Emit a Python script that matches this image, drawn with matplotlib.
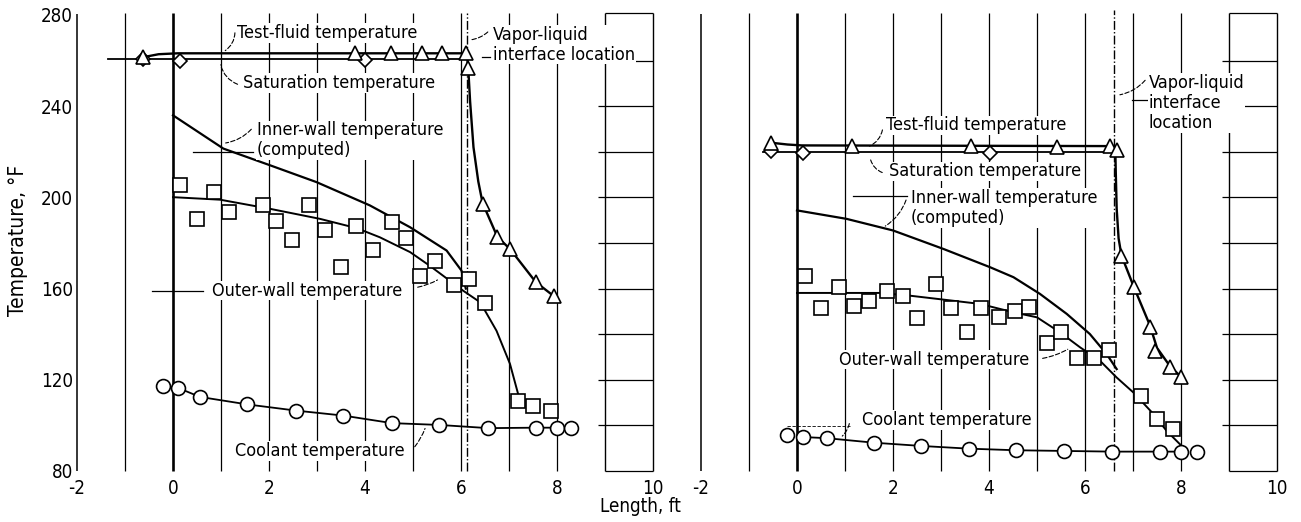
import matplotlib.pyplot as plt
import numpy as np

plt.rcParams['font.family'] = ['DejaVu Sans']
plt.rcParams['font.stretch'] = 'condensed'
plt.rcParams['font.size'] = 13
plt.rcParams['axes.unicode_minus'] = False

# ---------------- left panel data ----------------
a_tf_x = [-0.62, 3.79, 4.54, 5.19, 5.60, 6.10, 6.15, 6.45, 6.76, 7.02, 7.56, 7.94]
a_tf_y = [261.5, 263.3, 263.3, 263.3, 263.3, 263.3, 256.6, 197.2, 182.6, 177.4, 162.8, 156.6]
a_tf_line_x = [-0.62, -0.3, 0.1, 6.12, 6.15, 6.19, 6.26, 6.36, 6.45, 6.76, 7.02, 7.56, 7.94]
a_tf_line_y = [261.5, 262.8, 263.2, 263.2, 257.0, 242.0, 222.0, 207.0, 197.5, 182.6, 177.4, 162.8, 156.6]
a_sat_x = [-0.62, 0.15, 4.0]
a_sat_y = [260.6, 259.8, 260.2]
a_sat_line_x = [-1.35, 6.1]
a_sat_line_y = [260.5, 260.5]
a_inner_x = [0, 1.05, 2.02, 2.99, 4.1, 4.94, 5.7, 6.01, 6.1]
a_inner_y = [236.0, 221.4, 214.1, 206.7, 196.5, 186.9, 176.7, 167.9, 160.0]
a_outer_x = [0.15, 0.51, 0.85, 1.17, 1.88, 2.15, 2.47, 2.84, 3.17, 3.51, 3.81, 4.16,
             4.56, 4.85, 5.15, 5.46, 5.85, 6.17, 6.5, 7.18, 7.51, 7.88]
a_outer_y = [205.3, 190.6, 202.3, 193.5, 196.5, 189.6, 181.4, 196.5, 185.5, 169.4, 187.3, 177.0,
             189.1, 182.2, 165.7, 172.3, 161.6, 164.0, 153.5, 110.5, 108.6, 106.1]
a_outer_line_x = [0, 0.98, 2.02, 3.06, 3.83, 4.31, 4.94, 5.35, 6.05, 6.4, 6.74, 7.02, 7.2]
a_outer_line_y = [200.1, 199.0, 195.0, 190.6, 186.5, 182.5, 176.0, 170.0, 159.0, 154.0, 141.5, 127.0, 113.0]
a_cool_x = [-0.21, 0.1, 0.56, 1.55, 2.56, 3.55, 4.56, 5.55, 6.57, 7.56, 7.99, 8.3]
a_cool_y = [117.4, 116.5, 112.5, 109.2, 106.5, 104.3, 101.0, 100.2, 98.8, 99.0, 99.0, 99.0]
a_interface = 6.12

# ---------------- right panel data ----------------
b_tf_x = [-0.55, 1.14, 3.62, 5.41, 6.52, 6.66, 6.76, 7.02, 7.35, 7.46, 7.77, 8.0]
b_tf_y = [224.0, 222.5, 222.5, 222.0, 222.5, 221.0, 174.5, 160.6, 143.0, 132.7, 125.4, 121.3]
b_tf_line_x = [-0.55, -0.2, 0.1, 6.63, 6.64, 6.66, 6.7, 6.76, 7.02, 7.35, 7.5, 7.77, 8.0]
b_tf_line_y = [224.0, 223.2, 222.8, 222.5, 212.0, 195.0, 182.0, 174.5, 160.6, 144.0, 134.0, 126.0, 121.3]
b_sat_x = [-0.55, 0.13, 4.02]
b_sat_y = [220.5, 219.3, 219.3]
b_sat_line_x = [-0.7, 6.6]
b_sat_line_y = [219.8, 219.8]
b_inner_x = [0, 1.03, 2.0, 3.05, 4.02, 4.51, 5.06, 5.62, 6.1, 6.45, 6.66]
b_inner_y = [194.3, 190.6, 185.5, 177.4, 169.4, 165.0, 157.7, 148.9, 140.1, 131.3, 124.7]
b_outer_x = [0.17, 0.49, 0.88, 1.19, 1.51, 1.87, 2.2, 2.51, 2.89, 3.2, 3.54, 3.83,
             4.2, 4.54, 4.84, 5.2, 5.49, 5.83, 6.19, 6.51, 7.17, 7.49, 7.84]
b_outer_y = [165.4, 151.3, 160.9, 152.5, 154.4, 158.8, 156.9, 147.1, 162.0, 151.3, 141.0, 151.5,
             147.4, 150.3, 151.8, 136.1, 141.1, 129.5, 129.5, 133.0, 113.0, 102.7, 98.6]
b_outer_line_x = [0, 1.73, 2.35, 3.81, 4.51, 5.0, 5.48, 5.9, 6.31, 6.66, 7.01, 7.43, 7.7, 7.98]
b_outer_line_y = [158.1, 158.1, 156.9, 153.3, 149.6, 147.4, 140.8, 134.2, 128.4, 121.0, 114.4, 104.9, 97.6, 91.7]
b_cool_x = [-0.21, 0.12, 0.62, 1.61, 2.58, 3.58, 4.56, 5.56, 6.57, 7.56, 8.01, 8.33]
b_cool_y = [95.8, 94.9, 94.4, 92.4, 91.0, 89.8, 89.1, 88.8, 88.5, 88.5, 88.5, 88.5]
b_interface = 6.6

x_ticks = [-2, 0, 2, 4, 6, 8, 10]
y_ticks = [80, 120, 160, 200, 240, 280]
stations = [-1, 1, 2, 3, 4, 5, 6, 7, 8]
box_levels = [100, 120, 140, 160, 180, 200, 220, 240, 260]

fig = plt.figure(figsize=(13.01, 5.22), dpi=100)
axL = fig.add_axes([77 / 1301, 1 - 471 / 522, 576 / 1301, 456 / 522])
axR = fig.add_axes([701 / 1301, 1 - 471 / 522, 576 / 1301, 456 / 522])

mk = dict(mfc='white', mec='black', mew=1.2, ls='none', zorder=6)
lbl = dict(fontsize=13, ha='left', va='center', zorder=8,
           bbox=dict(fc='white', ec='none', pad=0.5))
dash = dict(arrowstyle='-', ls=(0, (4, 2)), lw=0.8, color='black')


def frame(ax, first):
    ax.set_xlim(-2, 10)
    ax.set_ylim(80, 280)
    for s in ['top', 'right', 'bottom', 'left']:
        ax.spines[s].set_visible(False)
    ax.set_xticks(x_ticks)
    ax.tick_params(axis='both', length=0, labelsize=13.5)
    ax.tick_params(axis='x', pad=6)
    if first:
        ax.set_yticks(y_ticks)
        ax.tick_params(axis='y', pad=3)
    else:
        ax.set_yticks([])
    # station lines and x = 0 line
    ax.vlines([-2], 80, 280.5, color='black', lw=1.1, clip_on=False)
    ax.vlines(stations, 80, 281, color='black', lw=0.9, clip_on=False)
    ax.vlines([0], 80, 281, color='black', lw=1.9, clip_on=False)
    # box at the right end
    ax.vlines([9, 10], 80, 281, color='black', lw=1.0, clip_on=False)
    ax.hlines(box_levels, 8.85, 10, color='black', lw=0.9)
    ax.hlines([80, 281], 9, 10, color='black', lw=0.9, clip_on=False)


frame(axL, True)
frame(axR, False)

# ---------------- left panel ----------------
ax = axL
ax.vlines([a_interface], 80, 281, color='black', lw=1.0, ls='-.', clip_on=False)
ax.plot(a_sat_line_x, a_sat_line_y, color='black', lw=1.3, zorder=4)
ax.plot(a_tf_line_x, a_tf_line_y, color='black', lw=1.7, zorder=4)
ax.plot(a_inner_x, a_inner_y, color='black', lw=1.6, zorder=4)
ax.plot(a_outer_line_x, a_outer_line_y, color='black', lw=1.4, zorder=4)
ax.plot(a_cool_x[1:-1], a_cool_y[1:-1], color='black', lw=1.3, zorder=4)
ax.plot(a_sat_x, a_sat_y, marker='D', ms=7.5, **mk)
ax.plot(a_tf_x, a_tf_y, marker='^', ms=10, **mk)
ax.plot(a_outer_x, a_outer_y, marker='s', ms=9.5, **mk)
ax.plot(a_cool_x, a_cool_y, marker='o', ms=10, **mk)

ax.text(1.33, 272.1, 'Test-fluid temperature', **lbl)
ax.annotate('', xy=(1.04, 263.7), xytext=(1.29, 273.4),
            arrowprops=dict(connectionstyle='arc3,rad=-0.3', **dash))
ax.text(1.46, 250.1, 'Saturation temperature', **lbl)
ax.annotate('', xy=(0.98, 259.3), xytext=(1.4, 249.2),
            arrowprops=dict(connectionstyle='arc3,rad=-0.3', **dash))
ax.text(1.75, 225.0, 'Inner-wall temperature\n(computed)', linespacing=1.15, **lbl)
ax.plot([0.42, 1.67], [219.8, 219.8], color='black', lw=0.9, zorder=3)
ax.annotate('', xy=(1.04, 223.7), xytext=(1.67, 230.8),
            arrowprops=dict(connectionstyle='arc3,rad=-0.2', **dash))
ax.text(0.81, 159.1, 'Outer-wall temperature', **lbl)
ax.plot([-0.44, 0.63], [159.1, 159.1], color='black', lw=0.9, zorder=3)
ax.annotate('', xy=(5.56, 164.4), xytext=(5.04, 160.4),
            arrowprops=dict(connectionstyle='arc3,rad=0.1', **dash))
ax.text(1.29, 88.8, 'Coolant temperature', **lbl)
ax.annotate('', xy=(5.27, 99.8), xytext=(5.0, 89.7),
            arrowprops=dict(connectionstyle='arc3,rad=0.1', **dash))
ax.text(6.67, 267.0, 'Vapor-liquid\ninterface location', linespacing=1.15, **lbl)
ax.annotate('', xy=(6.14, 269.0), xytext=(6.6, 273.4),
            arrowprops=dict(connectionstyle='arc3,rad=-0.2', **dash))
ax.plot([6.44, 6.6], [261.5, 261.5], color='black', lw=0.9, zorder=3)

# ---------------- right panel ----------------
ax = axR
ax.vlines([b_interface], 80, 282, color='black', lw=1.0, ls='-.', clip_on=False)
ax.plot(b_sat_line_x, b_sat_line_y, color='black', lw=1.3, zorder=4)
ax.plot(b_tf_line_x, b_tf_line_y, color='black', lw=1.7, zorder=4)
ax.plot(b_inner_x, b_inner_y, color='black', lw=1.6, zorder=4)
ax.plot(b_outer_line_x, b_outer_line_y, color='black', lw=1.4, zorder=4)
ax.plot(b_cool_x[1:-1], b_cool_y[1:-1], color='black', lw=1.3, zorder=4)
ax.plot(b_sat_x, b_sat_y, marker='D', ms=7.5, **mk)
ax.plot(b_tf_x, b_tf_y, marker='^', ms=10, **mk)
ax.plot(b_outer_x, b_outer_y, marker='s', ms=9.5, **mk)
ax.plot(b_cool_x, b_cool_y, marker='o', ms=10, **mk)

ax.text(1.85, 231.6, 'Test-fluid temperature', **lbl)
ax.annotate('', xy=(1.46, 222.0), xytext=(1.79, 230.8),
            arrowprops=dict(connectionstyle='arc3,rad=-0.3', **dash))
ax.text(1.92, 211.4, 'Saturation temperature', **lbl)
ax.annotate('', xy=(1.52, 217.6), xytext=(1.83, 210.5),
            arrowprops=dict(connectionstyle='arc3,rad=-0.3', **dash))
ax.text(2.375, 195.4, 'Inner-wall temperature\n(computed)', linespacing=1.15, **lbl)
ax.plot([1.17, 2.29], [200.4, 200.4], color='black', lw=0.9, zorder=3)
ax.annotate('', xy=(1.79, 186.8), xytext=(2.29, 200.0),
            arrowprops=dict(connectionstyle='arc3,rad=-0.2', **dash))
ax.text(0.875, 128.8, 'Outer-wall temperature', **lbl)
ax.annotate('', xy=(5.69, 134.0), xytext=(5.06, 129.2),
            arrowprops=dict(connectionstyle='arc3,rad=0.1', **dash))
ax.text(1.35, 102.4, 'Coolant temperature', **lbl)
ax.annotate('', xy=(0.9, 94.5), xytext=(1.1, 102.0),
            arrowprops=dict(connectionstyle='arc3,rad=-0.2', **dash))
ax.plot([-0.21, 1.1], [99.8, 99.8], color='black', lw=0.6, ls=(0, (4, 2)), zorder=3)
ax.text(7.33, 241.3, 'Vapor-liquid\ninterface\nlocation', linespacing=1.15, **lbl)
ax.annotate('', xy=(6.67, 244.8), xytext=(7.29, 252.3),
            arrowprops=dict(connectionstyle='arc3,rad=-0.2', **dash))
ax.plot([6.98, 7.31], [242.6, 242.6], color='black', lw=0.9, zorder=3)

fig.text(640 / 1301, 1 - 507 / 522, 'Length, ft', ha='center', va='center', fontsize=13.5)
fig.text(18 / 1301, 1 - 240 / 522, 'Temperature, \u00b0F', ha='center', va='center',
         rotation=90, fontsize=15)

fig.savefig('out.png', dpi=100)
